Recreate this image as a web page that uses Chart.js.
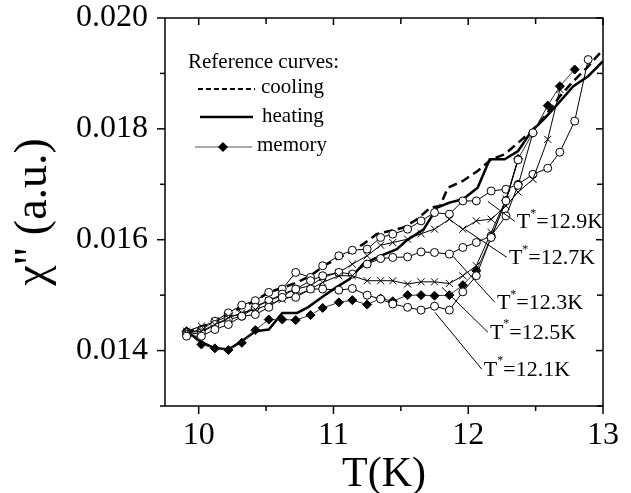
<!DOCTYPE html>
<html>
<head>
<meta charset="utf-8">
<script src="https://cdn.jsdelivr.net/npm/chart.js@4.4.1/dist/chart.umd.min.js"></script>
<style>
  body { margin: 0; background: #fff; }
  #wrap { width: 631px; height: 493px; }
</style>
</head>
<body>
<div id="wrap"><canvas id="chiChart" width="631" height="493"></canvas></div>
<script>
// temperatures of the marked (memory / T*) runs
const tMarked = [9.91, 10.02, 10.12, 10.22, 10.32, 10.42, 10.52, 10.62, 10.72, 10.83,
  10.92, 11.04, 11.14, 11.25, 11.35, 11.44, 11.55, 11.65, 11.75, 11.86,
  11.96, 12.06, 12.17, 12.28, 12.37, 12.48, 12.59, 12.68, 12.79, 12.89];

const memory = [0.01435, 0.01411, 0.01404, 0.01401, 0.01414, 0.01437, 0.01456, 0.01456, 0.01455, 0.01464,
  0.01477, 0.01487, 0.01491, 0.01483, 0.01494, 0.01489, 0.01500, 0.01500, 0.01499, 0.01500,
  0.01518, 0.01544, 0.01604, 0.01671, 0.01746, 0.01793, 0.01842, 0.01877, 0.01907, null];

const tStar129 = [0.01432, 0.01438, 0.01453, 0.01468, 0.01482, 0.01490, 0.01505, 0.01511, 0.01541, 0.01532,
  0.01553, 0.01571, 0.01581, 0.01583, 0.01604, 0.01610, 0.01619, 0.01634, 0.01649, 0.01646,
  0.01670, 0.01670, 0.01688, 0.01691, 0.01700, 0.01718, 0.01729, 0.01758, 0.01814, 0.01925];

const tStar127 = [0.01435, 0.01444, 0.01452, 0.01462, 0.01465, 0.01480, 0.01490, 0.01499, 0.01511, 0.01517,
  0.01532, 0.01541, 0.01556, 0.01571, 0.01590, 0.01595, 0.01601, 0.01611, 0.01619, 0.01637,
  0.01619, 0.01634, 0.01637, 0.01661, 0.01686, 0.01709, 0.01781, 0.01871, null, null];

const tStar123 = [0.01429, 0.01432, 0.01447, 0.01456, 0.01462, 0.01478, 0.01490, 0.01502, 0.01511, 0.01526,
  0.01535, 0.01541, 0.01538, 0.01556, 0.01566, 0.01568, 0.01569, 0.01578, 0.01577, 0.01574,
  0.01586, 0.01595, 0.01607, 0.01643, 0.01698, 0.01793, null, null, null, null];

const tStar125 = [0.01432, 0.01435, 0.01447, 0.01459, 0.01468, 0.01474, 0.01483, 0.01492, 0.01499, 0.01511,
  0.01523, 0.01535, 0.01535, 0.01526, 0.01526, 0.01526, 0.01520, 0.01524, 0.01524, 0.01521,
  0.01535, 0.01553, 0.01613, 0.01673, 0.01745, null, null, null, null, null];

const tStar121 = [0.01426, 0.01426, 0.01438, 0.01447, 0.01462, 0.01465, 0.01478, 0.01496, 0.01496, 0.01511,
  0.01511, 0.01509, 0.01512, 0.01500, 0.01493, 0.01484, 0.01478, 0.01473, 0.01480, 0.01473,
  0.01506, 0.01535, 0.01604, 0.01670, 0.01744, null, null, null, null, null];

// reference curves
const tHeating = [9.91, 10.01, 10.11, 10.22, 10.32, 10.42, 10.52, 10.62, 10.73, 10.81,
  10.93, 11.02, 11.12, 11.22, 11.35, 11.47, 11.54, 11.67, 11.77, 11.86,
  11.96, 12.07, 12.16, 12.27, 12.37, 12.47, 12.56, 12.65, 12.78, 12.89, 13.0];
const heating = [0.01435, 0.01417, 0.01405, 0.01402, 0.01417, 0.01435, 0.01438, 0.01468, 0.01468, 0.01478,
  0.01499, 0.01514, 0.01529, 0.01556, 0.01571, 0.01583, 0.01598, 0.01619, 0.01658, 0.01667,
  0.01673, 0.01694, 0.01745, 0.01745, 0.01760, 0.01796, 0.01817, 0.01841, 0.01877, 0.01895, 0.01922];

const tCooling = [9.90, 10.01, 10.11, 10.21, 10.32, 10.42, 10.52, 10.63, 10.73, 10.83,
  10.93, 11.02, 11.12, 11.22, 11.32, 11.42, 11.52, 11.62, 11.72, 11.79,
  11.85, 11.96, 12.07, 12.17, 12.27, 12.37, 12.47, 12.58, 12.68, 12.78, 12.88, 13.0];
const cooling = [0.01432, 0.01441, 0.01453, 0.01465, 0.01478, 0.01490, 0.01505, 0.01514, 0.01523, 0.01535,
  0.01553, 0.01565, 0.01577, 0.01592, 0.01610, 0.01616, 0.01622, 0.01637, 0.01658, 0.01661,
  0.01694, 0.01706, 0.01724, 0.01745, 0.01754, 0.01775, 0.01796, 0.01826, 0.01859, 0.01886, 0.01910, 0.01943];

// axis ticks
const xLabels = [10, 11, 12, 13];
const xMinor = [10.5, 11.5, 12.5];
const yLabels = [0.014, 0.016, 0.018, 0.020];
const yMinor = [0.013, 0.015, 0.017, 0.019];

// T* callouts: text, start (T, chi) on the curve, end (T, chi) at the text
const calloutText = ['12.9K', '12.7K', '12.3K', '12.5K', '12.1K'];
const calloutFromT = [12.146, 11.976, 11.887, 11.805, 11.753];
const calloutFromChi = [0.01669, 0.016186, 0.015699, 0.015141, 0.01469];
const calloutToT = [12.346, 12.287, 12.198, 12.146, 12.101];
const calloutToChi = [0.01633, 0.015681, 0.01487, 0.01433, 0.013663];

const serif = "'Liberation Serif', 'DejaVu Serif', serif";

function toPoints(xs, ys) {
  return xs.map((x, i) => ({ x: x, y: ys[i] })).filter(p => p.y !== null);
}

function markedSet(values, style, radius, fill) {
  return {
    data: toPoints(tMarked, values),
    borderColor: '#000',
    borderWidth: 1,
    pointStyle: style,
    pointRadius: radius,
    pointBorderColor: '#000',
    pointBorderWidth: 1,
    pointBackgroundColor: fill,
    showLine: true
  };
}

const frame = {
  id: 'frame',
  afterDraw(chart) {
    const { ctx, chartArea: a, scales: { x, y } } = chart;
    ctx.save();
    ctx.strokeStyle = '#000';
    ctx.lineWidth = 1.5;
    ctx.strokeRect(a.left, a.top, a.right - a.left, a.bottom - a.top);
    const seg = (x1, y1, x2, y2) => { ctx.beginPath(); ctx.moveTo(x1, y1); ctx.lineTo(x2, y2); ctx.stroke(); };
    xLabels.forEach(v => {
      const px = x.getPixelForValue(v);
      seg(px, a.bottom, px, a.bottom + 8);
      seg(px, a.top, px, a.top + 7);
    });
    xMinor.forEach(v => {
      const px = x.getPixelForValue(v);
      seg(px, a.bottom, px, a.bottom + 5);
      seg(px, a.top, px, a.top + 6);
    });
    yLabels.forEach(v => {
      const py = y.getPixelForValue(v);
      seg(a.left - 8, py, a.left, py);
      seg(a.right - 7, py, a.right, py);
    });
    yMinor.forEach(v => {
      const py = y.getPixelForValue(v);
      seg(a.left - 5, py, a.left, py);
      seg(a.right - 6, py, a.right, py);
    });

    // legend
    ctx.fillStyle = '#000';
    ctx.textBaseline = 'middle';
    ctx.textAlign = 'left';
    ctx.font = '21px ' + serif;
    ctx.fillText('Reference curves:', 188, 62);
    ctx.lineWidth = 2;
    ctx.setLineDash([5, 3]);
    seg(198, 89, 255, 89);
    ctx.setLineDash([]);
    ctx.lineWidth = 2.5;
    seg(200, 117, 253, 117);
    ctx.strokeStyle = '#555';
    ctx.lineWidth = 1;
    seg(195, 147, 252, 147);
    ctx.fillStyle = '#000';
    ctx.beginPath();
    ctx.moveTo(223, 142); ctx.lineTo(228, 147); ctx.lineTo(223, 152); ctx.lineTo(218, 147);
    ctx.closePath();
    ctx.fill();
    ctx.fillText('cooling', 261, 87);
    ctx.fillText('heating', 262, 116);
    ctx.fillText('memory', 257, 145);

    // T* callouts
    ctx.strokeStyle = '#000';
    ctx.lineWidth = 1;
    calloutText.forEach((txt, i) => {
      const x1 = x.getPixelForValue(calloutFromT[i]);
      const y1 = y.getPixelForValue(calloutFromChi[i]);
      const x2 = x.getPixelForValue(calloutToT[i]);
      const y2 = y.getPixelForValue(calloutToChi[i]);
      seg(x1, y1, x2, y2);
      let tx = x2 + 2;
      const ty = y2 + 1;
      ctx.font = '22px ' + serif;
      ctx.fillText('T', tx, ty);
      tx += ctx.measureText('T').width;
      ctx.font = '12px ' + serif;
      ctx.fillText('*', tx, ty - 9);
      tx += ctx.measureText('*').width;
      ctx.font = '22px ' + serif;
      ctx.fillText('=' + txt, tx, ty);
    });
    ctx.restore();
  }
};

new Chart(document.getElementById('chiChart'), {
  type: 'line',
  data: {
    datasets: [
      markedSet(tStar121, 'circle', 4, '#fff'),
      markedSet(tStar125, 'crossRot', 5, '#000'),
      markedSet(tStar123, 'circle', 4, '#fff'),
      markedSet(tStar127, 'crossRot', 5, '#000'),
      markedSet(tStar129, 'circle', 4, '#fff'),
      Object.assign(markedSet(memory, 'rectRot', 4.5, '#000'), { borderColor: '#333' }),
      {
        data: toPoints(tHeating, heating),
        borderColor: '#000',
        borderWidth: 2.5,
        pointRadius: 0,
        showLine: true
      },
      {
        data: toPoints(tCooling, cooling),
        borderColor: '#000',
        borderWidth: 2.5,
        borderDash: [9, 5],
        pointRadius: 0,
        showLine: true
      }
    ]
  },
  options: {
    responsive: false,
    animation: false,
    devicePixelRatio: 1,
    layout: { padding: { top: 18, right: 28, left: 0, bottom: 0 } },
    plugins: { legend: { display: false }, tooltip: { enabled: false } },
    elements: { line: { tension: 0 } },
    scales: {
      x: {
        type: 'linear',
        min: 9.75,
        max: 13,
        grid: { display: false, drawTicks: false },
        border: { display: false },
        afterBuildTicks: s => { s.ticks = xLabels.map(v => ({ value: v })); },
        afterFit: s => { s.height = 87; s.paddingLeft = 0; s.paddingRight = 0; },
        ticks: {
          padding: 10,
          color: '#000',
          font: { family: serif, size: 32 },
          maxRotation: 0,
          callback: v => String(v)
        },
        title: {
          display: true,
          text: 'T(K)',
          color: '#000',
          font: { family: serif, size: 42, lineHeight: 0.85 },
          padding: { top: 0, bottom: 0 }
        }
      },
      y: {
        type: 'linear',
        min: 0.013,
        max: 0.020,
        grid: { display: false, drawTicks: false },
        border: { display: false },
        afterBuildTicks: s => { s.ticks = yLabels.map(v => ({ value: v })); },
        afterFit: s => { s.width = 165; s.paddingTop = 0; s.paddingBottom = 0; },
        ticks: {
          padding: 17,
          color: '#000',
          font: { family: serif, size: 32 },
          callback: v => v.toFixed(3)
        },
        title: {
          display: true,
          text: 'χ" (a.u.)',
          color: '#000',
          font: { family: serif, size: 46, lineHeight: 1.2 },
          padding: { top: 6, bottom: 0 }
        }
      }
    }
  },
  plugins: [frame]
});
</script>
</body>
</html>
